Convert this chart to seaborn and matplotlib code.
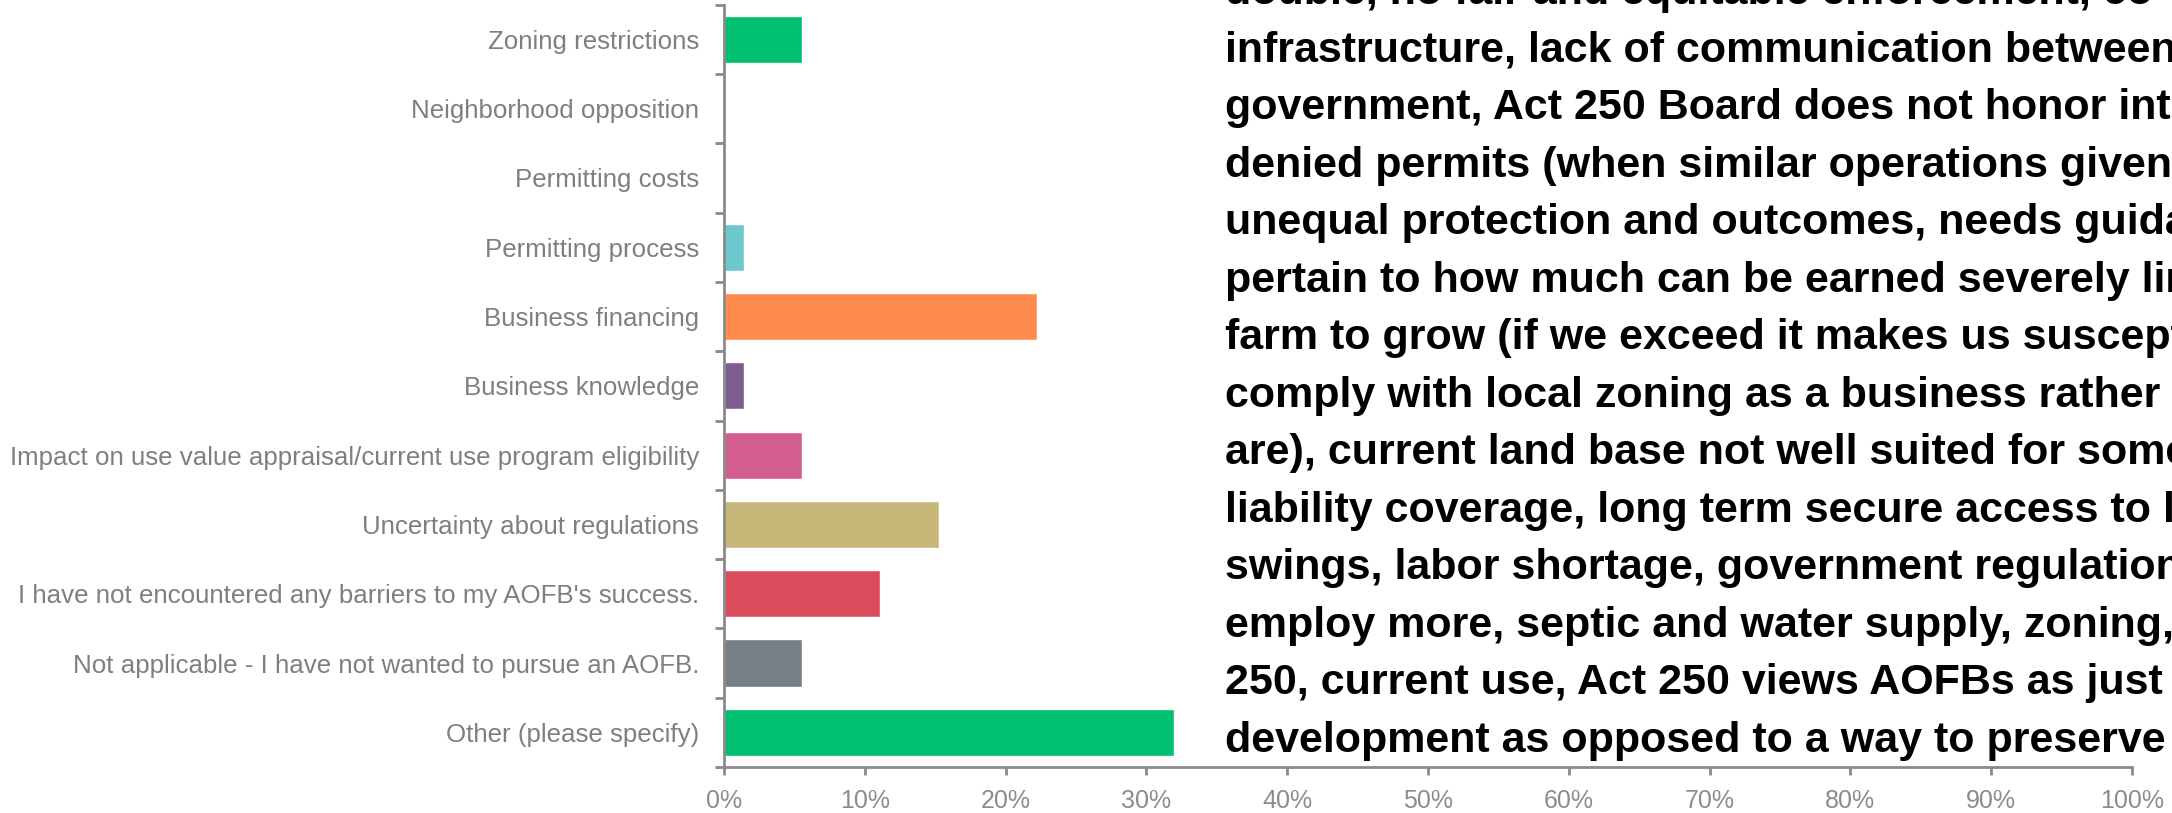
import numpy as np
import pandas as pd
import matplotlib
matplotlib.use("Agg")
import matplotlib.pyplot as plt
import seaborn as sns

categories = [
    "Zoning restrictions",
    "Neighborhood opposition",
    "Permitting costs",
    "Permitting process",
    "Business financing",
    "Business knowledge",
    "Impact on use value appraisal/current use program eligibility",
    "Uncertainty about regulations",
    "I have not encountered any barriers to my AOFB's success.",
    "Not applicable - I have not wanted to pursue an AOFB.",
    "Other (please specify)",
]
values = [5.56, 0.0, 0.0, 1.39, 22.22, 1.39, 5.56, 15.28, 11.11, 5.56, 31.94]
bar_colors = ["#00BF6F", "#507CB6", "#F9BE00", "#6BC8CD", "#FF8B4F", "#7D5E90",
              "#D25F90", "#C7B879", "#DB4D5C", "#768086", "#00BF6F"]
x_ticks = [0, 10, 20, 30, 40, 50, 60, 70, 80, 90, 100]
x_tick_labels = [f"{t}%" for t in x_ticks]

overlay_lines = [
    "double, no fair and equitable enforcement, co",
    "infrastructure, lack of communication between",
    "government, Act 250 Board does not honor int",
    "denied permits (when similar operations given",
    "unequal protection and outcomes, needs guida",
    "pertain to how much can be earned severely lim",
    "farm to grow (if we exceed it makes us suscept",
    "comply with local zoning as a business rather t",
    "are), current land base not well suited for some",
    "liability coverage, long term secure access to la",
    "swings, labor shortage, government regulations",
    "employ more, septic and water supply, zoning,",
    "250, current use, Act 250 views AOFBs as just",
    "development as opposed to a way to preserve",
]

sns.set_theme(style="white")
plt.rcParams["font.family"] = ["Liberation Sans", "DejaVu Sans"]

W, H = 2172, 813
fig = plt.figure(figsize=(W / 100, H / 100), dpi=100)
fig.patch.set_facecolor("white")
ax = fig.add_axes([724 / W, 1 - 767 / H, (2132 - 724) / W, (767 - 4.7) / H])

df = pd.DataFrame({"category": categories, "value": values})
sns.barplot(data=df, x="value", y="category", hue="category",
            palette=bar_colors, legend=False, width=0.68, orient="h",
            saturation=1, ax=ax)

ax.set_xlim(0, 100)
ax.set_ylim(len(categories) - 0.5, -0.5)
ax.set_xlabel("")
ax.set_ylabel("")

axis_grey = "#8a8a8a"
for s in ["top", "right"]:
    ax.spines[s].set_visible(False)
for s in ["left", "bottom"]:
    ax.spines[s].set_color(axis_grey)
    ax.spines[s].set_linewidth(2)

ax.set_xticks(x_ticks)
ax.set_xticklabels(x_tick_labels)
ax.tick_params(axis="x", direction="out", length=5.5, width=2, color=axis_grey,
               labelcolor="#8c8c8c", labelsize=18, pad=10, bottom=True)

ax.tick_params(axis="y", which="major", length=0, labelsize=18.6,
               labelcolor="#7f7f7f", pad=18, left=True)
ax.set_yticks(np.arange(-0.5, len(categories), 1.0), minor=True)
ax.tick_params(axis="y", which="minor", direction="out", length=6.3, width=2,
               color=axis_grey, left=True)

for i, line in enumerate(overlay_lines):
    fig.text(1225 / W, 1 - (4.2 + 57.5 * i) / H, line, ha="left", va="baseline",
             fontsize=31, fontweight="bold", color="black")

fig.savefig("out.png", dpi=100, facecolor="white")
